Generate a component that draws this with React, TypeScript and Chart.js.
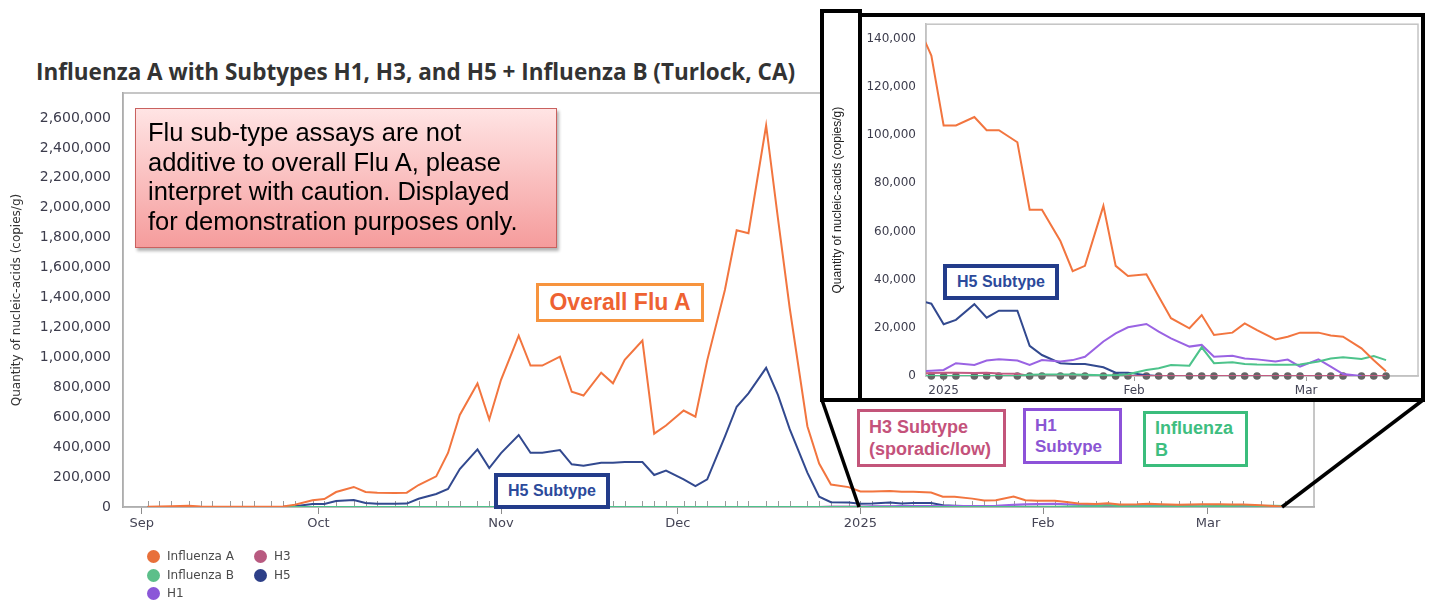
import React, { useEffect, useRef } from 'react';
import { Chart, registerables } from 'chart.js';

Chart.register(...registerables);

// ---------- DATA ----------
const sampleDates = [
  '2024-09-02', '2024-09-04', '2024-09-06', '2024-09-09', '2024-09-11', '2024-09-13', '2024-09-16', '2024-09-18', '2024-09-20', '2024-09-23', '2024-09-25', '2024-09-27', '2024-09-30',
  '2024-10-02', '2024-10-04', '2024-10-07', '2024-10-09', '2024-10-11', '2024-10-14', '2024-10-16', '2024-10-18', '2024-10-21', '2024-10-23', '2024-10-25', '2024-10-28', '2024-10-30',
  '2024-11-01', '2024-11-04', '2024-11-06', '2024-11-08', '2024-11-11', '2024-11-13', '2024-11-15', '2024-11-18', '2024-11-20', '2024-11-22', '2024-11-25', '2024-11-27', '2024-11-29',
  '2024-12-02', '2024-12-04', '2024-12-06', '2024-12-09', '2024-12-11', '2024-12-13', '2024-12-16', '2024-12-18', '2024-12-20', '2024-12-23', '2024-12-25', '2024-12-27', '2024-12-30',
  '2025-01-01', '2025-01-03', '2025-01-06', '2025-01-08', '2025-01-10', '2025-01-13', '2025-01-15', '2025-01-17', '2025-01-20', '2025-01-22', '2025-01-24', '2025-01-27', '2025-01-29', '2025-01-31',
  '2025-02-03', '2025-02-05', '2025-02-07', '2025-02-10', '2025-02-12', '2025-02-14', '2025-02-17', '2025-02-19', '2025-02-21', '2025-02-24', '2025-02-26', '2025-02-28',
  '2025-03-03', '2025-03-05', '2025-03-07', '2025-03-10', '2025-03-12', '2025-03-14',
];

const influenzaA = [
  2000, 3000, 5000, 9000, 4000, 2000, 1000, 1000, 1500, 2000, 4000, 15000, 45000,
  53000, 100000, 134000, 100000, 95000, 94000, 96000, 147000, 205000, 361000, 615000, 825000, 585000,
  850000, 1145000, 945000, 945000, 1005000, 770000, 745000, 898000, 827000, 983000, 1112000, 490000, 545000,
  645000, 604000, 980000, 1450000, 1850000, 1830000, 2550000, 1930000, 1330000, 540000, 290000, 150000, 133000,
  104000, 104000, 107500, 102000, 102000, 97000, 69000, 69000, 56000, 43500, 45700, 70600, 45700, 41500,
  42200, 33000, 24000, 19800, 25300, 17000, 18000, 21800, 19000, 15200, 16300, 18000,
  18000, 16800, 16300, 11500, 6500, 2000,
];

const influenzaB = [
  0, 0, 0, 0, 0, 0, 0, 0, 0, 0, 0, 0, 0,
  0, 0, 0, 0, 0, 0, 0, 0, 0, 0, 0, 0, 0,
  0, 0, 0, 0, 0, 0, 0, 0, 0, 0, 0, 0, 0,
  0, 0, 0, 0, 0, 0, 0, 0, 0, 0, 0, 0, 0,
  0, 0, 0, 0, 0, 0, 500, 600, 600, 600, 500, 300, 300, 700,
  2500, 3200, 4600, 4300, 11900, 5300, 5700, 5000, 4800, 4700, 4700, 4800,
  6000, 7300, 7800, 7100, 8300, 6600,
];

const h1 = [
  0, 0, 0, 0, 0, 0, 0, 0, 0, 0, 0, 0, 0,
  0, 0, 0, 0, 0, 0, 0, 0, 0, 0, 0, 0, 0,
  0, 0, 0, 0, 0, 0, 0, 0, 0, 0, 0, 0, 0,
  0, 0, 0, 0, 0, 0, 0, 0, 0, 0, 0, 1800, 2200,
  2500, 5300, 4600, 6400, 6900, 6400, 4600, 6600, 6000, 6600, 8000, 14300, 17700, 20200,
  21600, 18400, 15600, 12200, 12900, 8000, 8400, 7300, 6900, 6000, 6800, 3900,
  6900, 3900, 800, 0, null, null,
];

const h3 = [
  0, 0, 0, 0, 0, 0, 0, 0, 0, 0, 0, 0, 0,
  0, 0, 0, 0, 0, 0, 0, 0, 0, 0, 0, 0, 0,
  0, 0, 0, 0, 0, 0, 0, 0, 0, 0, 0, 0, 0,
  0, 0, 0, 0, 0, 0, 0, 0, 0, 0, 500, 1000, 1200,
  1300, 1300, 1200, 1300, 1000, 900, 0, 0, 0, 0, 0, 0, 0, 0,
  0, 0, 0, 0, 0, 0, 0, 0, 0, 0, 0, 0,
  0, 0, 0, 0, 0, 0,
];

const h5 = [
  0, 0, 0, 0, 0, 0, 0, 0, 0, 0, 1000, 5000, 20000,
  20000, 40000, 47000, 27000, 22000, 21000, 23000, 55000, 87000, 120000, 254000, 385000, 260000,
  360000, 481000, 363000, 363000, 381000, 285000, 275000, 296000, 296000, 301000, 301000, 214000, 243000,
  185000, 140000, 185000, 470000, 670000, 760000, 930000, 749000, 520000, 230000, 69000, 32000, 30000,
  21500, 23300, 29800, 24200, 27100, 27100, 12500, 8700, 5300, 5000, 5000, 3600, 1400, 1400,
  300, 0, 0, 0, 0, 0, 0, 0, 0, 0, 0, 0,
  0, 0, 0, 0, 0, 0,
];

// non-detect markers shown in the zoomed view
const nonDetect = [
  null, null, null, null, null, null, null, null, null, null, null, null, null,
  null, null, null, null, null, null, null, null, null, null, null, null, null,
  null, null, null, null, null, null, null, null, null, null, null, null, null,
  null, null, null, null, null, null, null, null, null, null, null, null, 0,
  0, 0, 0, 0, 0, 0, 0, 0, 0, 0, 0, 0, 0, 0,
  0, 0, 0, 0, 0, 0, 0, 0, 0, 0, 0, 0,
  0, 0, 0, 0, 0, 0,
];

const mainYTicks = [0, 200000, 400000, 600000, 800000, 1000000, 1200000, 1400000, 1600000, 1800000, 2000000, 2200000, 2400000, 2600000];
const insetYTicks = [0, 20000, 40000, 60000, 80000, 100000, 120000, 140000];
const mainXTickDates = ['2024-09-01', '2024-10-01', '2024-11-01', '2024-12-01', '2025-01-01', '2025-02-01', '2025-03-01'];
const mainXTickLabels = ['Sep', 'Oct', 'Nov', 'Dec', '2025', 'Feb', 'Mar'];
const insetXTickDates = ['2025-01-01', '2025-02-01', '2025-03-01'];
const insetXTickLabels = ['2025', 'Feb', 'Mar'];

const seriesNames = ['Influenza A', 'Influenza B', 'H1', 'H3', 'H5'];
const lineColors = ['#F2753F', '#4DC38B', '#9A63E3', '#C25B82', '#32498F'];
const legendColors = ['#E8703A', '#5CBF8A', '#8B57D8', '#B85A80', '#2D3F88'];

// ---------- HELPERS ----------
const ORIGIN = Date.UTC(2024, 8, 1);
const toDay = (s: string) => {
  const [y, m, d] = s.split('-').map(Number);
  return (Date.UTC(y, m - 1, d) - ORIGIN) / 86400000;
};
const days = sampleDates.map(toDay);
const pts = (vals: (number | null)[]) => vals.map((v, i) => ({ x: days[i], y: v }));
const fmt = (v: number) => String(Math.round(v)).replace(/\B(?=(\d{3})+(?!\d))/g, ',');

const frame = (color: string, width: number) => ({
  id: 'frame',
  beforeDatasetsDraw(chart: any) {
    const { ctx, chartArea: a } = chart;
    ctx.save();
    ctx.strokeStyle = color;
    ctx.lineWidth = width;
    ctx.strokeRect(a.left, a.top, a.right - a.left, a.bottom - a.top);
    ctx.restore();
  },
});

const sampleTicks = {
  id: 'sampleTicks',
  beforeDatasetsDraw(chart: any) {
    const { ctx, chartArea, scales } = chart;
    ctx.save();
    ctx.strokeStyle = '#9a9a9a';
    ctx.lineWidth = 1;
    days.forEach((d) => {
      const px = Math.round(scales.x.getPixelForValue(d)) + 0.5;
      ctx.beginPath();
      ctx.moveTo(px, chartArea.bottom);
      ctx.lineTo(px, chartArea.bottom - 6);
      ctx.stroke();
    });
    ctx.restore();
  },
};

const seriesData = [influenzaA, influenzaB, h1, h3, h5];

const makeDatasets = () =>
  seriesData.map((vals, i) => ({
    label: seriesNames[i],
    data: pts(vals),
    borderColor: lineColors[i],
    backgroundColor: lineColors[i],
    borderWidth: 2,
    pointRadius: 0,
    tension: 0,
    fill: false,
    spanGaps: false,
  }));

export default function App() {
  const mainRef = useRef<HTMLCanvasElement>(null);
  const insetRef = useRef<HTMLCanvasElement>(null);

  useEffect(() => {
    const main = new Chart(mainRef.current as HTMLCanvasElement, {
      type: 'line',
      data: { datasets: makeDatasets() as any },
      options: {
        responsive: false,
        animation: false,
        layout: { padding: { top: 93, right: 115, bottom: 64, left: 0 } },
        plugins: { legend: { display: false }, tooltip: { enabled: false }, title: { display: false } },
        scales: {
          x: {
            type: 'linear',
            min: -3.17,
            max: 199.0,
            afterBuildTicks: (s: any) => {
              s.ticks = mainXTickDates.map((t) => ({ value: toDay(t) }));
            },
            afterFit: (s: any) => {
              s.height = 30;
            },
            ticks: {
              autoSkip: false,
              maxRotation: 0,
              padding: 2,
              color: '#444455',
              font: { family: 'DejaVu Sans', size: 13 },
              callback: (_v: any, i: number) => mainXTickLabels[i],
            },
            grid: { drawOnChartArea: false, drawTicks: true, tickLength: 7, color: '#8c8c8c' },
            border: { display: true, color: '#9a9a9a', width: 1.5 },
          },
          y: {
            min: 0,
            max: 2767000,
            afterBuildTicks: (s: any) => {
              s.ticks = mainYTicks.map((v) => ({ value: v }));
            },
            afterFit: (s: any) => {
              s.width = 123;
            },
            ticks: {
              padding: 12,
              color: '#3c3c4c',
              font: { family: 'DejaVu Sans', size: 14 },
              callback: (v: any) => fmt(Number(v)),
            },
            grid: { display: false, drawTicks: false },
            border: { display: true, color: '#9a9a9a', width: 1.5 },
            title: {
              display: true,
              text: 'Quantity of nucleic-acids (copies/g)',
              color: '#333',
              font: { family: 'DejaVu Sans', size: 12 },
              padding: { top: 10, bottom: 0 },
            },
          },
        },
      },
      plugins: [frame('#b4b4b4', 1.5), sampleTicks],
    } as any);

    const insetDatasets: any[] = makeDatasets();
    insetDatasets.push({
      label: 'Non-detect',
      data: pts(nonDetect),
      showLine: false,
      pointRadius: 3.8,
      pointBackgroundColor: '#666666',
      pointBorderWidth: 0,
      borderColor: '#666666',
      clip: false,
    });

    const inset = new Chart(insetRef.current as HTMLCanvasElement, {
      type: 'line',
      data: { datasets: insetDatasets },
      options: {
        responsive: false,
        animation: false,
        layout: { padding: { top: 0, right: 0, bottom: 0, left: 0 } },
        plugins: { legend: { display: false }, tooltip: { enabled: false }, title: { display: false } },
        scales: {
          x: {
            type: 'linear',
            min: 119.13,
            max: 199.2,
            afterBuildTicks: (s: any) => {
              s.ticks = insetXTickDates.map((t) => ({ value: toDay(t) }));
            },
            afterFit: (s: any) => {
              s.height = 22;
            },
            ticks: {
              autoSkip: false,
              maxRotation: 0,
              padding: 3,
              color: '#444455',
              font: { family: 'DejaVu Sans', size: 12 },
              callback: (_v: any, i: number) => insetXTickLabels[i],
            },
            grid: { drawOnChartArea: false, drawTicks: true, tickLength: 5, color: '#9a9a9a' },
            border: { display: true, color: '#bdbdbd', width: 1.5 },
          },
          y: {
            min: 0,
            max: 146000,
            afterBuildTicks: (s: any) => {
              s.ticks = insetYTicks.map((v) => ({ value: v }));
            },
            afterFit: (s: any) => {
              s.width = 102;
            },
            ticks: {
              padding: 10,
              color: '#3c3c4c',
              font: { family: 'DejaVu Sans', size: 12 },
              callback: (v: any) => fmt(Number(v)),
            },
            grid: { display: false, drawTicks: false },
            border: { display: true, color: '#bdbdbd', width: 1.5 },
            title: {
              display: true,
              text: 'Quantity of nucleic-acids (copies/g)',
              color: '#222',
              font: { family: 'Liberation Sans', size: 12 },
              padding: { top: 6, bottom: 0 },
            },
          },
        },
      },
      plugins: [frame('#c4c4c4', 1.5)],
    } as any);

    return () => {
      main.destroy();
      inset.destroy();
    };
  }, []);

  const abs = (l: number, t: number, w: number, h: number): React.CSSProperties => ({
    position: 'absolute',
    left: l,
    top: t,
    width: w,
    height: h,
    boxSizing: 'border-box',
  });

  const labelBox = (
    l: number, t: number, w: number, h: number, color: string, text: string, lines: string[], size: number, center: boolean, bw: number
  ) => (
    <div
      style={{
        ...abs(l, t, w, h),
        border: `${bw}px solid ${color}`,
        background: '#fff',
        display: 'flex',
        flexDirection: 'column',
        justifyContent: 'center',
        alignItems: center ? 'center' : 'flex-start',
        paddingLeft: center ? 0 : 9,
        color: text,
        fontFamily: 'Liberation Sans, Arial, sans-serif',
        fontWeight: 700,
        fontSize: size,
        lineHeight: `${size + 4}px`,
        whiteSpace: 'nowrap',
      }}
    >
      {lines.map((ln, i) => (
        <div key={i}>{ln}</div>
      ))}
    </div>
  );

  const legendItems = [
    { i: 0, x: 153, y: 556 },
    { i: 1, x: 153, y: 575 },
    { i: 2, x: 153, y: 593 },
    { i: 3, x: 260, y: 556 },
    { i: 4, x: 260, y: 575 },
  ];

  return (
    <div style={{ position: 'absolute', left: 0, top: 0, width: 1429, height: 601, background: '#fff', overflow: 'hidden' }}>
      <div
        style={{
          position: 'absolute',
          left: 36,
          top: 57,
          fontFamily: 'Open Sans, sans-serif',
          fontWeight: 700,
          fontSize: 22.5,
          lineHeight: '30px',
          color: '#333',
          whiteSpace: 'nowrap',
        }}
      >
        Influenza A with Subtypes H1, H3, and H5 + Influenza B (Turlock, CA)
      </div>

      <canvas ref={mainRef} width={1429} height={601} style={{ position: 'absolute', left: 0, top: 0, width: 1429, height: 601 }} />

      {legendItems.map(({ i, x, y }) => (
        <div key={i}>
          <div
            style={{
              position: 'absolute',
              left: x - 6.5,
              top: y - 6.5,
              width: 13,
              height: 13,
              borderRadius: '50%',
              background: legendColors[i],
            }}
          />
          <div
            style={{
              position: 'absolute',
              left: x + 14,
              top: y - 8,
              fontFamily: 'DejaVu Sans, sans-serif',
              fontSize: 12,
              lineHeight: '16px',
              color: '#4a4a4a',
              whiteSpace: 'nowrap',
            }}
          >
            {seriesNames[i]}
          </div>
        </div>
      ))}

      {/* note box */}
      <div
        style={{
          ...abs(135, 108, 422, 140),
          border: '1.5px solid #C9615F',
          background: 'linear-gradient(#FFE4E4, #F59C9C)',
          boxShadow: '2px 3px 3px rgba(0,0,0,0.3)',
          padding: '9px 12px',
          fontFamily: 'Liberation Sans, Arial, sans-serif',
          fontSize: 25.5,
          lineHeight: '29.5px',
          color: '#000',
          whiteSpace: 'nowrap',
        }}
      >
        <div>Flu sub-type assays are not</div>
        <div>additive to overall Flu A, please</div>
        <div>interpret with caution. Displayed</div>
        <div>for demonstration purposes only.</div>
      </div>

      {labelBox(536, 283, 168, 39, '#F7943E', '#EE6232', ['Overall Flu A'], 23, true, 3.5)}
      {labelBox(494, 473, 116, 36, '#233C8A', '#2C4A9B', ['H5 Subtype'], 16, true, 4)}

      {/* zoom connector lines */}
      <svg style={{ position: 'absolute', left: 0, top: 0 }} width={1429} height={601}>
        <line x1={822} y1={400} x2={859} y2={507} stroke="#000" strokeWidth={3.5} />
        <line x1={1423} y1={400} x2={1282} y2={507} stroke="#000" strokeWidth={3.5} />
      </svg>

      {/* inset */}
      <div style={{ ...abs(820, 9, 605, 393), background: '#fff' }} />
      <canvas ref={insetRef} width={598} height={391} style={{ position: 'absolute', left: 824, top: 7, width: 598, height: 391 }} />
      <div style={{ ...abs(820, 9, 42, 393), border: '4px solid #000' }} />
      <div style={{ ...abs(858, 13, 567, 389), border: '4px solid #000' }} />
      {labelBox(943, 264, 116, 36, '#233C8A', '#2C4A9B', ['H5 Subtype'], 16, true, 4)}

      {labelBox(857, 409, 149, 58, '#C3557A', '#C4527B', ['H3 Subtype', '(sporadic/low)'], 18, false, 3.5)}
      {labelBox(1023, 408, 99, 56, '#8D52D9', '#8B55D3', ['H1', 'Subtype'], 17, false, 3.5)}
      {labelBox(1143, 411, 105, 56, '#3BBD7C', '#3EBE80', ['Influenza', 'B'], 18, false, 3.5)}
    </div>
  );
}
